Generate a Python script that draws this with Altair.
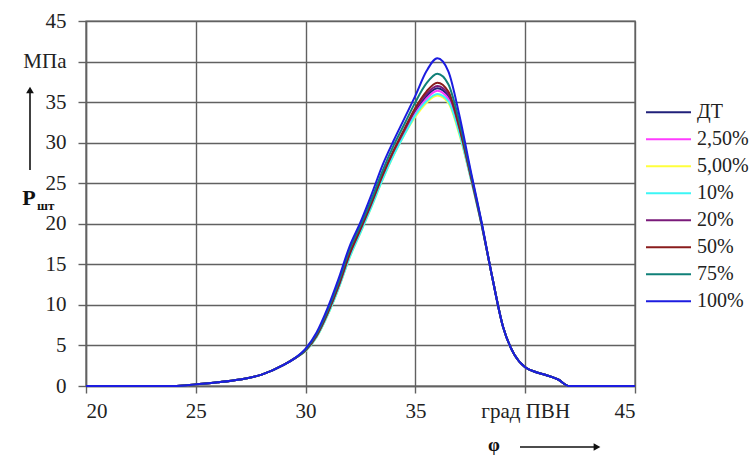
import altair as alt
import pandas as pd

# --- data -------------------------------------------------------------
phi = [20, 22, 24, 25, 26, 27, 28, 29, 29.5, 30, 30.5, 31, 31.5, 32, 32.5, 33,
       33.5, 34, 34.5, 35, 35.5, 36, 36.5, 37, 37.5, 38, 38.5, 39, 39.5, 40,
       40.5, 41, 41.5, 42, 43, 44, 45]

series_names = ["ДТ", "2,50%", "5,00%", "10%", "20%", "50%", "75%", "100%"]
series_colors = ["#20207a", "#ff3cff", "#ffff3c", "#3cf6f6", "#7a1a7a", "#8a1c1c", "#108078", "#1c1ce0"]

low = [0, 0, 0, 0.2, 0.45, 0.8, 1.4, 2.6, 3.4]
tail = [13.4, 7.2, 3.9, 2.3, 1.7, 1.3, 0.8, 0, 0, 0, 0]

p_dt   = low + [4.4, 6.1, 8.9, 12.2, 16.1, 19.2, 22.4, 25.7, 28.7, 31.3, 33.8, 35.7, 36.7, 35.7, 31.6, 26.0, 20.1] + tail
p_25   = low + [4.4, 6.1, 8.8, 12.1, 16.0, 19.1, 22.3, 25.6, 28.6, 31.2, 33.6, 35.4, 36.4, 35.4, 31.4, 25.9, 20.1] + tail
p_50   = low + [4.3, 6.0, 8.7, 12.0, 15.8, 18.9, 22.1, 25.4, 28.4, 31.0, 33.2, 34.9, 35.8, 34.9, 31.0, 25.8, 20.0] + tail
p_10   = low + [4.3, 6.0, 8.7, 12.0, 15.8, 18.9, 22.1, 25.4, 28.4, 31.0, 33.4, 35.1, 36.0, 35.1, 31.2, 25.8, 20.0] + tail
p_20   = low + [4.4, 6.2, 9.0, 12.3, 16.2, 19.3, 22.5, 25.9, 28.9, 31.5, 34.1, 36.0, 37.0, 36.0, 31.8, 26.1, 20.1] + tail
p_50b  = low + [4.4, 6.2, 9.0, 12.4, 16.3, 19.4, 22.6, 26.0, 29.0, 31.7, 34.3, 36.3, 37.4, 36.3, 32.0, 26.2, 20.2] + tail
p_75   = low + [4.5, 6.4, 9.3, 12.8, 16.8, 19.8, 23.0, 26.5, 29.6, 32.3, 35.0, 37.3, 38.5, 37.2, 32.6, 26.5, 20.3] + tail
p_100  = low + [4.6, 6.6, 9.6, 13.2, 17.2, 20.2, 23.6, 27.2, 30.2, 33.0, 35.8, 38.8, 40.4, 38.8, 33.4, 26.8, 20.4] + tail

series_values = [p_dt, p_25, p_50, p_10, p_20, p_50b, p_75, p_100]

y_ticks = [0, 5, 10, 15, 20, 25, 30, 35, 40, 45]
x_ticks = [20, 25, 30, 35, 40, 45]

rows = []
for k, (name, vals) in enumerate(zip(series_names, series_values)):
    for x, v in zip(phi, vals):
        rows.append({"phi": x, "p": v, "s": name, "o": k})
df = pd.DataFrame(rows)

FONT = "Liberation Serif"
GRID = "#616161"

lines = alt.Chart(df).mark_line(strokeWidth=2, interpolate="monotone").encode(
    x=alt.X("phi:Q", scale=alt.Scale(domain=[20, 45], nice=False, zero=False),
            axis=alt.Axis(values=x_ticks, title=None, tickSize=7, labelPadding=7,
                          labelFont=FONT, labelFontSize=21,
                          labelExpr="datum.value == 40 ? 'град ПВН' : datum.label")),
    y=alt.Y("p:Q", scale=alt.Scale(domain=[0, 45], nice=False),
            axis=alt.Axis(values=y_ticks, title=None, tickSize=8, labelPadding=12,
                          labelFont=FONT, labelFontSize=21,
                          labelExpr="datum.value == 40 ? 'МПа' : datum.label")),
    color=alt.Color("s:N", scale=alt.Scale(domain=series_names, range=series_colors),
                    sort=series_names,
                    legend=alt.Legend(orient="none", legendX=559, legendY=78, title=None,
                                      symbolType="stroke", symbolSize=2025,
                                      symbolStrokeWidth=2, clipHeight=26.5, rowPadding=0,
                                      labelFont=FONT, labelFontSize=20, labelColor="#222",
                                      labelOffset=5)),
    order=alt.Order("o:Q"),
)

one = pd.DataFrame({"a": [0]})
base = alt.Chart(one)

y_shaft = base.mark_rule(color="#111", strokeWidth=1.6).encode(
    x=alt.value(-56), y=alt.value(70), y2=alt.value(149))
y_head = base.mark_point(shape="triangle-up", filled=True, color="#111", size=60, opacity=1).encode(
    x=alt.value(-56), y=alt.value(69))
x_shaft = base.mark_rule(color="#111", strokeWidth=1.6).encode(
    x=alt.value(434), x2=alt.value(510), y=alt.value(426))
x_head = base.mark_point(shape="triangle-right", filled=True, color="#111", size=60, opacity=1).encode(
    x=alt.value(511), y=alt.value(426))
p_main = base.mark_text(text="P", font=FONT, fontSize=22, fontWeight="bold", color="#111",
                        align="center", baseline="middle").encode(x=alt.value(-57), y=alt.value(177))
p_sub = base.mark_text(text="шт", font=FONT, fontSize=13, fontWeight="bold", color="#111",
                       align="left", baseline="middle").encode(x=alt.value(-49), y=alt.value(185))
phi_lbl = base.mark_text(text="φ", font=FONT, fontSize=19, fontWeight="bold", color="#111",
                         align="center", baseline="middle").encode(x=alt.value(408), y=alt.value(424))

chart = alt.layer(lines, y_shaft, y_head, x_shaft, x_head, p_main, p_sub, phi_lbl).properties(
    width=549, height=365,
    autosize=alt.AutoSizeParams(type="none"),
    padding={"left": 86, "top": 21, "right": 117, "bottom": 70},
    background="white",
).configure_view(stroke=GRID, strokeWidth=1.4).configure_axis(
    grid=True, gridColor=GRID, gridWidth=1.4, gridOpacity=1,
    domainColor=GRID, domainWidth=1.4, tickColor=GRID, tickWidth=1.4,
    labelColor="#222",
)

chart.save("out.html", embed_options={"renderer": "svg", "actions": False})
